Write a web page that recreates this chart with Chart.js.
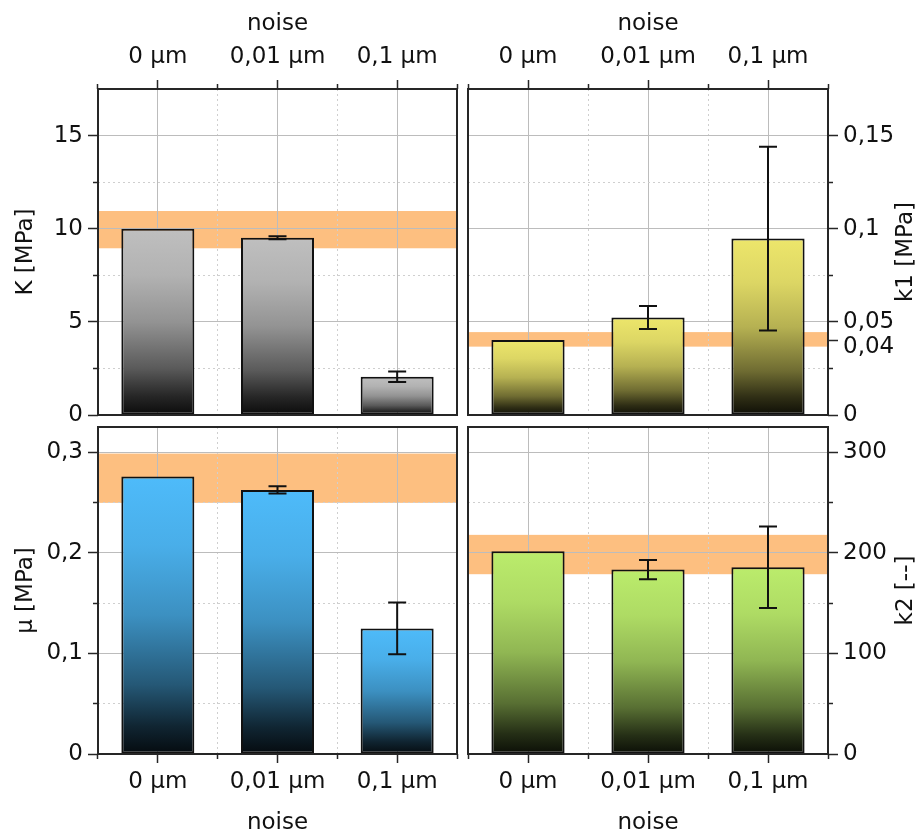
<!DOCTYPE html>
<html>
<head>
<meta charset="utf-8">
<script src="https://cdn.jsdelivr.net/npm/chart.js@4.4.1/dist/chart.umd.min.js"></script>
<style>
  html, body { margin: 0; background: #fff; }
  #wrap { position: relative; width: 918px; height: 835px; }
  #wrap canvas { position: absolute; left: 0; top: 0; }
</style>
</head>
<body>
<div id="wrap">
  <canvas id="cK" width="918" height="835"></canvas>
  <canvas id="cK1" width="918" height="835"></canvas>
  <canvas id="cMu" width="918" height="835"></canvas>
  <canvas id="cK2" width="918" height="835"></canvas>
</div>
<script>
const noiseLabels = ['0 µm', '0,01 µm', '0,1 µm'];

// K [MPa]
const kValues = [10.0, 9.52, 2.05];
const kErrors = [0, 0.08, 0.28];
const kBand = [8.95, 10.95];
const kTicks = [0, 5, 10, 15];
const kMinorTicks = [2.5, 7.5, 12.5];

// k1 [MPa]
const k1Values = [0.0403, 0.0523, 0.0947];
const k1Errors = [0, 0.0062, 0.0493];
const k1Band = [0.0367, 0.0445];
const k1Ticks = [0, 0.04, 0.05, 0.1, 0.15];
const k1MinorTicks = [0.025, 0.075, 0.125];

// µ [MPa]
const muValues = [0.2757, 0.2625, 0.1248];
const muErrors = [0, 0.0036, 0.0257];
const muBand = [0.2496, 0.2986];
const muTicks = [0, 0.1, 0.2, 0.3];
const muMinorTicks = [0.05, 0.15, 0.25];

// k2 [--]
const k2Values = [201.5, 183.3, 185.6];
const k2Errors = [0, 9.6, 40.6];
const k2Band = [178.7, 217.8];
const k2Ticks = [0, 100, 200, 300];
const k2MinorTicks = [50, 150, 250];

const W = 918, H = 835;
const FONT = { family: "'DejaVu Sans', sans-serif", size: 23 };
const TEXT = '#111';
const FRAME = '#262626';
const GRID = '#bcbcbc';
const GRID_MINOR = '#cfcfcf';
const BAND = '#fdbf80';
// brightness along each bar, top (0) to base (1)
const SHADE = [[0, 1], [0.25, 0.93], [0.5, 0.77], [0.75, 0.47], [0.9, 0.2], [1, 0.06]];

const comma = v => String(v).replace('.', ',');

const shade = (hex, f) => {
  const n = parseInt(hex.slice(1), 16);
  const r = Math.round(((n >> 16) & 255) * f);
  const g = Math.round(((n >> 8) & 255) * f);
  const b = Math.round((n & 255) * f);
  return `rgb(${r},${g},${b})`;
};

// orange reference band, drawn under the grid
const bandPlugin = range => ({
  id: 'band',
  beforeDraw(chart) {
    const { ctx, chartArea: a, scales: { y } } = chart;
    const t = y.getPixelForValue(range[1]);
    const b = y.getPixelForValue(range[0]);
    ctx.save();
    ctx.fillStyle = BAND;
    ctx.fillRect(a.left, t, a.right - a.left, b - t);
    ctx.restore();
  }
});

// symmetric error bars with caps
const errorPlugin = errors => ({
  id: 'errorBars',
  afterDatasetsDraw(chart) {
    const { ctx, scales: { y } } = chart;
    const vals = chart.data.datasets[0].data;
    ctx.save();
    ctx.strokeStyle = '#111';
    ctx.lineWidth = 2;
    chart.getDatasetMeta(0).data.forEach((bar, i) => {
      const e = errors[i];
      if (!e) return;
      const t = y.getPixelForValue(vals[i] + e);
      const b = y.getPixelForValue(vals[i] - e);
      const h = 9;
      ctx.beginPath();
      ctx.moveTo(bar.x, t); ctx.lineTo(bar.x, b);
      ctx.moveTo(bar.x - h, t); ctx.lineTo(bar.x + h, t);
      ctx.moveTo(bar.x - h, b); ctx.lineTo(bar.x + h, b);
      ctx.stroke();
    });
    ctx.restore();
  }
});

// box around the plot area
const framePlugin = {
  id: 'frame',
  afterDraw(chart) {
    const { ctx, chartArea: a } = chart;
    ctx.save();
    ctx.strokeStyle = FRAME;
    ctx.lineWidth = 2;
    ctx.strokeRect(a.left, a.top, a.right - a.left, a.bottom - a.top);
    ctx.restore();
  }
};

// Chart.js turns right-hand titles top-to-bottom, these read bottom-to-top
const rightTitlePlugin = text => ({
  id: 'rightTitle',
  afterDraw(chart) {
    const { ctx, chartArea: a } = chart;
    ctx.save();
    ctx.translate(W - 12, (a.top + a.bottom) / 2);
    ctx.rotate(-Math.PI / 2);
    ctx.font = `${FONT.size}px ${FONT.family}`;
    ctx.fillStyle = TEXT;
    ctx.textAlign = 'center';
    ctx.textBaseline = 'middle';
    ctx.fillText(text, 0, 0);
    ctx.restore();
  }
});

function makePanel(id, p) {
  const a = p.area;
  const ySide = p.ySide, xSide = p.xSide;
  const lowered = p.lowered || [];

  // each bar fades from its colour at the top to near black at the base
  const fill = c => {
    const y = c.chart.scales.y;
    if (c.type !== 'data' || !y) return p.color;
    const top = y.getPixelForValue(c.raw);
    const base = y.getPixelForValue(0);
    if (!isFinite(top) || !isFinite(base) || top === base) return p.color;
    const g = c.chart.ctx.createLinearGradient(0, top, 0, base);
    SHADE.forEach(([pos, f]) => g.addColorStop(pos, shade(p.color, f)));
    return g;
  };

  const plugins = [bandPlugin(p.band), errorPlugin(p.errors), framePlugin];
  if (ySide === 'right') plugins.push(rightTitlePlugin(p.title));

  return new Chart(document.getElementById(id), {
    type: 'bar',
    data: {
      labels: noiseLabels,
      datasets: [{
        data: p.values,
        backgroundColor: fill,
        borderColor: '#111',
        borderWidth: 2,
        borderSkipped: false,
        barPercentage: 0.61,
        categoryPercentage: 1
      }]
    },
    options: {
      responsive: false,
      animation: false,
      events: [],
      layout: {
        padding: {
          left: ySide === 'left' ? 0 : a.left,
          right: ySide === 'right' ? 0 : W - a.right,
          top: xSide === 'top' ? 0 : a.top,
          bottom: xSide === 'bottom' ? 0 : H - a.bottom
        }
      },
      plugins: { legend: { display: false }, tooltip: { enabled: false } },
      scales: {
        x: {
          type: 'category', position: xSide, weight: 1, offset: true,
          afterFit: s => { s.height = xSide === 'top' ? a.top : H - a.bottom; },
          border: { display: false },
          grid: { offset: false, color: GRID, lineWidth: 1, tickColor: FRAME, tickLength: 9, tickWidth: 1.5 },
          ticks: { font: FONT, color: TEXT, padding: xSide === 'top' ? 9 : 5, maxRotation: 0, autoSkip: false },
          title: {
            display: true, text: 'noise', font: FONT, color: TEXT,
            padding: xSide === 'top' ? { top: 10, bottom: 0 } : { top: 0, bottom: -2 }
          }
        },
        x2: {
          type: 'category', position: xSide, weight: 0, offset: true,
          afterFit: s => { s.height = 0; },
          border: { display: false, dash: [2, 3] },
          grid: { offset: true, color: GRID_MINOR, lineWidth: 1, tickColor: FRAME, tickLength: 5, tickWidth: 1.5 },
          ticks: { display: false }
        },
        y: {
          type: 'linear', position: ySide, weight: 1, min: 0, max: p.max,
          afterBuildTicks: s => { s.ticks = p.ticks.map(v => ({ value: v })); },
          afterFit: s => { s.width = ySide === 'left' ? a.left : W - a.right; },
          border: { display: false },
          grid: {
            color: c => (c.tick && p.noGrid.includes(c.tick.value)) ? 'rgba(0,0,0,0)' : GRID,
            lineWidth: 1, tickColor: FRAME, tickLength: 10, tickWidth: 1.5
          },
          ticks: {
            color: TEXT, padding: 5, autoSkip: false,
            // a label pushed below its tick gets an empty first line
            font: c => (c.tick && lowered.includes(c.tick.value)) ? { ...FONT, lineHeight: 0.55 } : FONT,
            callback: v => lowered.includes(v) ? ['', comma(v)] : comma(v)
          },
          title: ySide === 'left'
            ? { display: true, text: p.title, font: FONT, color: TEXT, padding: { top: 12, bottom: 0 } }
            : { display: false }
        },
        y2: {
          type: 'linear', position: ySide, weight: 0, min: 0, max: p.max,
          afterBuildTicks: s => { s.ticks = p.minor.map(v => ({ value: v })); },
          afterFit: s => { s.width = 0; },
          border: { display: false, dash: [2, 3] },
          grid: { color: GRID_MINOR, lineWidth: 1, tickColor: FRAME, tickLength: 5, tickWidth: 1.5 },
          ticks: { display: false }
        }
      }
    },
    plugins
  });
}

makePanel('cK', {
  values: kValues, errors: kErrors, band: kBand, ticks: kTicks, minor: kMinorTicks, noGrid: [],
  max: 17.5, title: 'K [MPa]', color: '#bfbfbf',
  ySide: 'left', xSide: 'top', area: { left: 98, top: 89, right: 457, bottom: 415 }
});

makePanel('cK1', {
  values: k1Values, errors: k1Errors, band: k1Band, ticks: k1Ticks, minor: k1MinorTicks,
  noGrid: [0.04], lowered: [0.04],
  max: 0.175, title: 'k1 [MPa]', color: '#ede66b',
  ySide: 'right', xSide: 'top', area: { left: 468, top: 89, right: 828, bottom: 415 }
});

makePanel('cMu', {
  values: muValues, errors: muErrors, band: muBand, ticks: muTicks, minor: muMinorTicks, noGrid: [],
  max: 0.325, title: 'µ [MPa]', color: '#4ebbfa',
  ySide: 'left', xSide: 'bottom', area: { left: 98, top: 427, right: 457, bottom: 754 }
});

makePanel('cK2', {
  values: k2Values, errors: k2Errors, band: k2Band, ticks: k2Ticks, minor: k2MinorTicks, noGrid: [],
  max: 325, title: 'k2 [--]', color: '#bbec6c',
  ySide: 'right', xSide: 'bottom', area: { left: 468, top: 427, right: 828, bottom: 754 }
});
</script>
</body>
</html>
